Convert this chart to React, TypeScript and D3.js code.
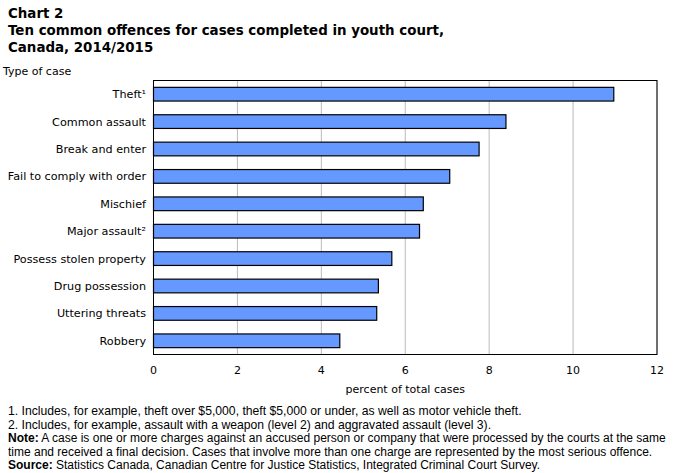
import React from "react";
import * as d3 from "d3";

const categories = [
  "Theft¹",
  "Common assault",
  "Break and enter",
  "Fail to comply with order",
  "Mischief",
  "Major assault²",
  "Possess stolen property",
  "Drug possession",
  "Uttering threats",
  "Robbery",
];
const values = [10.97, 8.4, 7.76, 7.06, 6.43, 6.34, 5.68, 5.36, 5.32, 4.44];
const xTicks = [0, 2, 4, 6, 8, 10, 12];

const titleLines = [
  "Chart 2",
  "Ten common offences for cases completed in youth court,",
  "Canada, 2014/2015",
];
const footnotes = [
  "1. Includes, for example, theft over $5,000, theft $5,000 or under, as well as motor vehicle theft.",
  "2. Includes, for example, assault with a weapon (level 2) and aggravated assault (level 3).",
];
const noteLines = [
  ["Note:", " A case is one or more charges against an accused person or company that were processed by the courts at the same"],
  ["", "time and received a final decision. Cases that involve more than one charge are represented by the most serious offence."],
  ["Source:", " Statistics Canada, Canadian Centre for Justice Statistics, Integrated Criminal Court Survey."],
];

export default function App() {
  const W = 676, H = 473;
  const left = 153.5, right = 657, top = 80.5, bottom = 354.5;
  const x = d3.scaleLinear().domain([0, 12]).range([left, right]);
  const y = d3.scaleBand().domain(categories).range([top, bottom]).paddingInner(0.5).paddingOuter(0.25);
  const labelFont = "Verdana, 'DejaVu Sans', sans-serif";
  const noteFont = "'Liberation Sans', Arial, sans-serif";
  return (
    <svg width={W} height={H} style={{ position: "absolute", left: 0, top: 0, background: "#fff" }}>
      <rect x={0} y={0} width={W} height={H} fill="#fff" />
      {titleLines.map((t, i) => (
        <text key={i} x={8} y={18 + i * 17} fontFamily={labelFont} fontWeight="bold" fontSize={13.4} fill="#000">
          {t}
        </text>
      ))}
      <text x={3} y={75} fontFamily={labelFont} fontSize={11} fill="#000">Type of case</text>
      {xTicks.map((t) => (
        <line key={t} x1={x(t)} x2={x(t)} y1={top} y2={bottom} stroke="#bbbbbb" strokeWidth={1} />
      ))}
      {categories.map((c, i) => (
        <rect
          key={c}
          x={x(0)}
          y={y(c)!}
          width={x(values[i]) - x(0)}
          height={y.bandwidth()}
          fill="#6699ff"
          stroke="#000"
          strokeWidth={1.2}
        />
      ))}
      <rect x={left} y={top} width={right - left} height={bottom - top} fill="none" stroke="#000" strokeWidth={1} />
      {categories.map((c) => (
        <text key={c} x={146} y={y(c)! + y.bandwidth() / 2} dy="0.35em" textAnchor="end" fontFamily={labelFont} fontSize={11.2} fill="#000">
          {c}
        </text>
      ))}
      {xTicks.map((t) => (
        <text key={t} x={x(t)} y={374} textAnchor="middle" fontFamily={labelFont} fontSize={11} fill="#000">
          {t}
        </text>
      ))}
      <text x={(left + right) / 2} y={393} textAnchor="middle" fontFamily={labelFont} fontSize={11} fill="#000">
        percent of total cases
      </text>
      {footnotes.map((f, i) => (
        <text key={i} x={8} y={415 + i * 13.5} fontFamily={noteFont} fontSize={12.2} fill="#000">{f}</text>
      ))}
      {noteLines.map((n, i) => (
        <text key={i} x={8} y={442 + i * 13.5} fontFamily={noteFont} fontSize={12} fill="#000">
          {n[0] && <tspan fontWeight="bold">{n[0]}</tspan>}
          <tspan>{n[1]}</tspan>
        </text>
      ))}
    </svg>
  );
}
